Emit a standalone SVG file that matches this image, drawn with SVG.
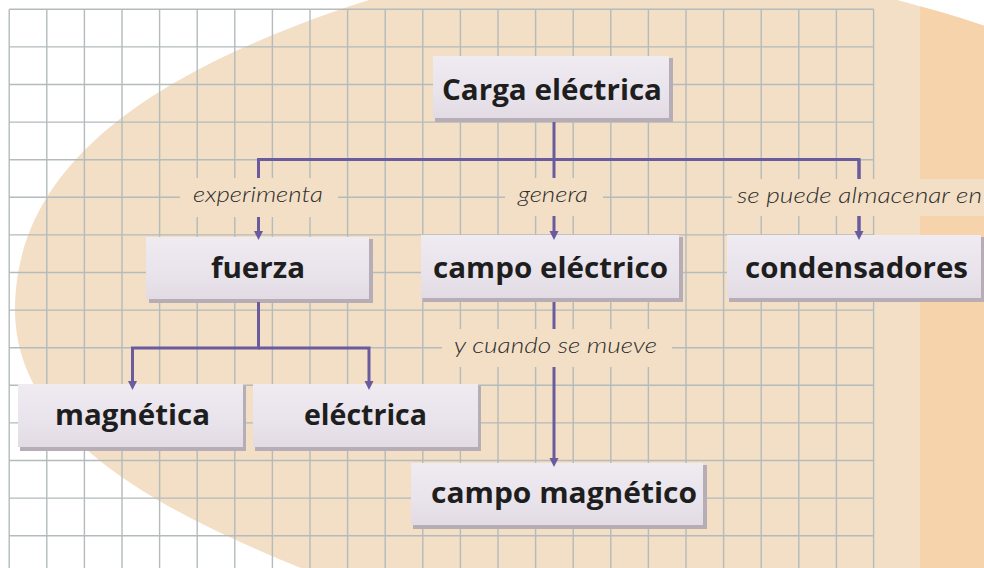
<svg xmlns="http://www.w3.org/2000/svg" width="984" height="568" viewBox="0 0 984 568">
<style>
.grid{fill:none;stroke:#b3bbbc;stroke-width:1.4}
.conn{fill:none;stroke:#6a5a9e;stroke-width:3}
.lblbg{fill:#f3dfc5}
.lbl{font-family:Lato,"Open Sans",sans-serif;font-style:italic;font-weight:300;font-size:21px;fill:#2e2e2e;text-anchor:middle}
.shadow{fill:#b7adb7}
.box{fill:url(#boxg)}
.txt{font-family:"Open Sans","Noto Sans",sans-serif;font-weight:700;font-size:28px;fill:#1e1e1e;text-anchor:middle}
</style>
<defs>
<linearGradient id="boxg" x1="0" y1="0" x2="0" y2="1">
<stop offset="0" stop-color="#efebf1"/>
<stop offset="0.6" stop-color="#e9e3eb"/>
<stop offset="1" stop-color="#e2dbe4"/>
</linearGradient>
<path id="blob" d="M301,568 C171,515 15,440 15,310 C15,160 160.6,73.7 330,13 C518,-54 705,-55 897,0 C930,9 960,17 990,28 L990,568 Z"/>
<clipPath id="ell"><use href="#blob"/></clipPath>
<marker id="arr" markerUnits="userSpaceOnUse" viewBox="0 0 10 10" refX="0" refY="5" markerWidth="9" markerHeight="13" orient="auto">
<path d="M0,0 L10,5 L0,10 z" fill="#6a5a9e"/>
</marker>
</defs>
<rect x="0" y="0" width="984" height="568" fill="#ffffff"/>
<use href="#blob" fill="#f3dfc5"/>
<rect x="920" y="0" width="64" height="568" fill="#f7d3ab" clip-path="url(#ell)"/>
<path class="grid" d="M9.2 9.3V568M46.8 9.3V568M84.4 9.3V568M122 9.3V568M159.6 9.3V568M197.2 9.3V568M234.8 9.3V568M272.4 9.3V568M310 9.3V568M347.6 9.3V568M385.2 9.3V568M422.8 9.3V568M460.4 9.3V568M498 9.3V568M535.6 9.3V568M573.2 9.3V568M610.8 9.3V568M648.4 9.3V568M686 9.3V568M723.6 9.3V568M761.2 9.3V568M798.8 9.3V568M836.4 9.3V568M873.6 9.3V568M9.2 9.3H873.6M9.2 46.9H873.6M9.2 84.5H873.6M9.2 122.1H873.6M9.2 159.7H873.6M9.2 197.3H873.6M9.2 234.9H873.6M9.2 272.5H873.6M9.2 310.1H873.6M9.2 347.7H873.6M9.2 385.3H873.6M9.2 422.9H873.6M9.2 460.5H873.6M9.2 498.1H873.6M9.2 535.7H873.6"/>

<g id="node-carga"><rect class="shadow" x="435" y="58" width="238" height="64"/><rect class="box" x="433" y="56" width="236" height="62"/><text class="txt" x="552" y="100" textLength="220" lengthAdjust="spacingAndGlyphs">Carga eléctrica</text></g>
<g id="node-fuerza"><rect class="shadow" x="149" y="239" width="224" height="64"/><rect class="box" x="146" y="237" width="223" height="62"/><text class="txt" x="258" y="278" textLength="94" lengthAdjust="spacingAndGlyphs">fuerza</text></g>
<g id="node-campo-electrico"><rect class="shadow" x="423" y="237" width="260" height="65"/><rect class="box" x="421" y="235" width="258" height="63"/><text class="txt" x="550.5" y="278" textLength="235" lengthAdjust="spacingAndGlyphs">campo eléctrico</text></g>
<g id="node-condensadores"><rect class="shadow" x="729" y="237" width="255" height="65"/><rect class="box" x="727" y="235" width="254" height="63"/><text class="txt" x="856.5" y="278" textLength="223" lengthAdjust="spacingAndGlyphs">condensadores</text></g>
<g id="node-magnetica"><rect class="shadow" x="20" y="386" width="226" height="65"/><rect class="box" x="18" y="384" width="225" height="63"/><text class="txt" x="132.5" y="425" textLength="155" lengthAdjust="spacingAndGlyphs">magnética</text></g>
<g id="node-electrica"><rect class="shadow" x="255" y="386" width="226" height="65"/><rect class="box" x="253" y="384" width="225" height="63"/><text class="txt" x="365.5" y="425" textLength="123" lengthAdjust="spacingAndGlyphs">eléctrica</text></g>
<g id="node-campo-magnetico"><rect class="shadow" x="413" y="465" width="294" height="64"/><rect class="box" x="411" y="463" width="292" height="62"/><text class="txt" x="564" y="503" textLength="266" lengthAdjust="spacingAndGlyphs">campo magnético</text></g>

<g id="connectors">
<path class="conn" d="M554 122V159.5"/>
<path class="conn" d="M258.5 231V159.5H859V231"/>
<path class="conn" d="M258.5 159.5V231" marker-end="url(#arr)"/>
<path class="conn" d="M554 159.5V231" marker-end="url(#arr)"/>
<path class="conn" d="M859 159.5V231" marker-end="url(#arr)"/>
<path class="conn" d="M258.5 302V348H132.5V381" marker-end="url(#arr)"/>
<path class="conn" d="M258.5 348H369V381" marker-end="url(#arr)"/>
<path class="conn" d="M554 302V458" marker-end="url(#arr)"/>
</g>

<g id="labels">
<rect class="lblbg" x="180" y="178" width="158" height="39"/>
<text class="lbl" x="258" y="202" textLength="130" lengthAdjust="spacingAndGlyphs">experimenta</text>
<rect class="lblbg" x="505" y="178" width="98" height="38"/>
<text class="lbl" x="553" y="202" textLength="70" lengthAdjust="spacingAndGlyphs">genera</text>
<rect class="lblbg" x="732" y="179" width="252" height="37"/>
<text class="lbl" x="859.5" y="203" textLength="245" lengthAdjust="spacingAndGlyphs">se puede almacenar en</text>
<rect class="lblbg" x="442" y="329" width="230" height="38"/>
<text class="lbl" x="555.5" y="353" textLength="203" lengthAdjust="spacingAndGlyphs">y cuando se mueve</text>
</g>
</svg>
